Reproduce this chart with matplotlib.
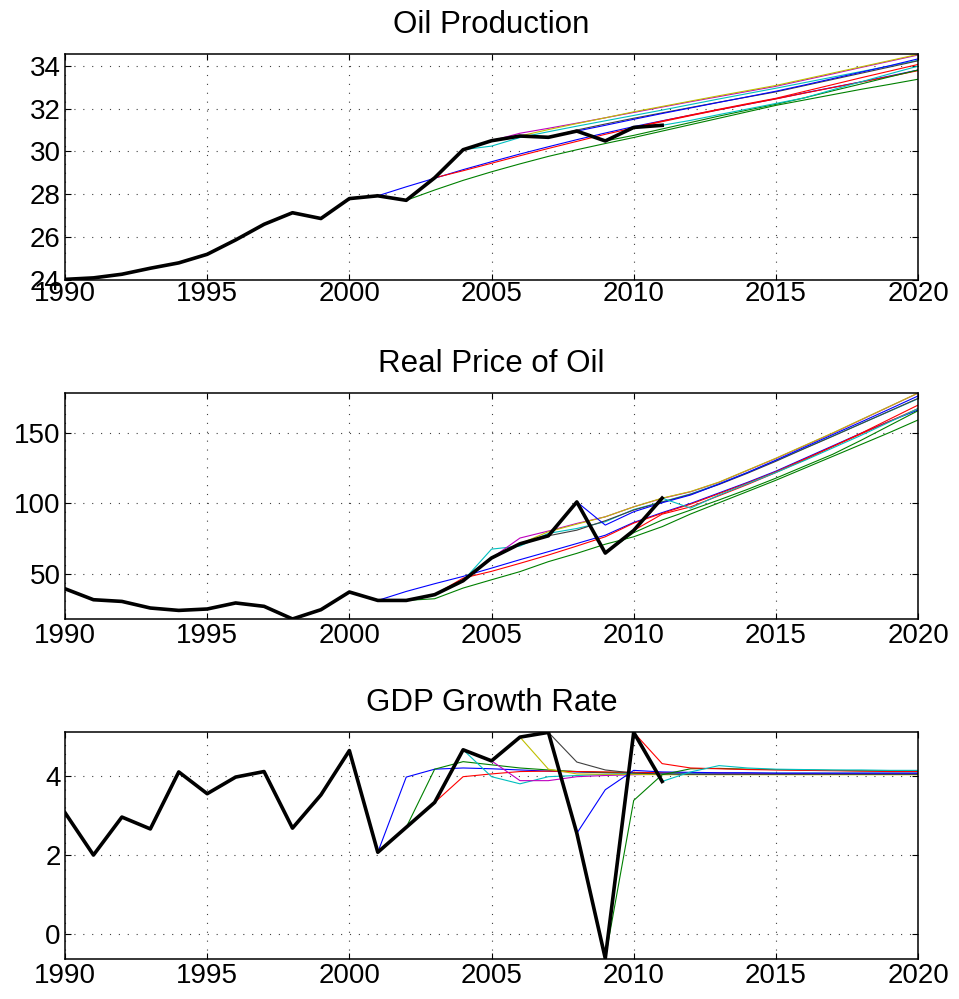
import numpy as np
import matplotlib
matplotlib.use("Agg")
import matplotlib.pyplot as plt

plt.rcParams["font.family"] = ["Liberation Sans", "DejaVu Sans"]

# ---- datos observados (1990-2011) ----
years_hist = list(range(1990, 2012))
prod_hist = [24.03, 24.1, 24.27, 24.55, 24.8, 25.2, 25.87, 26.6, 27.14, 26.87,
             27.8, 27.93, 27.72, 28.77, 30.08, 30.5, 30.72, 30.66, 30.95, 30.49,
             31.12, 31.22]
price_hist = [39.3, 31.5, 30.3, 25.6, 23.9, 24.9, 29.2, 26.8, 17.8, 24.4,
              37.0, 31.0, 31.0, 35.1, 45.0, 61.2, 71.3, 77.0, 101.1, 64.7,
              80.8, 103.8]
gdp_hist = [3.06, 1.99, 2.95, 2.65, 4.09, 3.54, 3.96, 4.1, 2.67, 3.51,
            4.63, 2.06, 2.69, 3.32, 4.65, 4.37, 4.97, 5.09, 2.54, -0.62,
            5.09, 3.85]

# ---- previsões: ano de origem -> valores da origem até 2020 ----
origins = list(range(2001, 2012))
fc_colors = ["b", "g", "r", "c", "m", "y", "k", "b", "g", "r", "c"]

prod_fc = {
    2001: [27.93, 28.35, 28.75, 29.15, 29.52, 29.88, 30.22, 30.55, 30.86, 31.16,
           31.43, 31.69, 31.95, 32.2, 32.46, 32.73, 32.99, 33.25, 33.52, 33.8],
    2002: [27.72, 28.2, 28.65, 29.05, 29.42, 29.77, 30.08, 30.37, 30.65, 30.95,
           31.25, 31.55, 31.85, 32.15, 32.4, 32.65, 32.9, 33.13, 33.37],
    2003: [28.77, 29.1, 29.45, 29.8, 30.14, 30.47, 30.8, 31.1, 31.39, 31.67,
           31.94, 32.2, 32.45, 32.72, 32.98, 33.24, 33.5, 33.77],
    2004: [30.08, 30.25, 30.65, 30.92, 31.18, 31.43, 31.68, 31.93, 32.19, 32.45,
           32.7, 32.95, 33.21, 33.47, 33.73, 33.99, 34.25],
    2005: [30.5, 30.85, 31.08, 31.32, 31.57, 31.82, 32.07, 32.32, 32.56, 32.8,
           33.04, 33.33, 33.62, 33.92, 34.21, 34.5],
    2006: [30.72, 31.02, 31.3, 31.57, 31.85, 32.1, 32.35, 32.6, 32.84, 33.08,
           33.37, 33.66, 33.95, 34.24, 34.53],
    2007: [30.66, 31.0, 31.28, 31.55, 31.8, 32.05, 32.3, 32.54, 32.78, 33.07,
           33.36, 33.65, 33.94, 34.23],
    2008: [30.95, 31.22, 31.5, 31.77, 32.03, 32.29, 32.55, 32.81, 33.1, 33.4,
           33.7, 34.0, 34.32],
    2009: [30.49, 30.75, 31.05, 31.35, 31.65, 31.93, 32.2, 32.5, 32.83, 33.15,
           33.48, 33.8],
    2010: [31.12, 31.42, 31.7, 31.97, 32.23, 32.48, 32.8, 33.12, 33.44, 33.75, 34.06],
    2011: [31.22, 31.45, 31.72, 31.98, 32.24, 32.5, 32.88, 33.25, 33.62, 33.98],
}

price_fc = {
    2001: [31.0, 37.4, 42.9, 48.1, 54.0, 60.0, 65.7, 71.5, 77.4, 86.5,
           93.5, 100.0, 107.5, 115.0, 123.0, 132.0, 141.0, 150.0, 158.5, 166.5],
    2002: [31.0, 32.2, 39.8, 45.7, 51.5, 58.6, 64.5, 71.0, 76.3, 83.5,
           92.5, 100.5, 108.5, 116.5, 125.0, 133.5, 142.0, 150.5, 159.4],
    2003: [35.1, 46.9, 51.7, 57.4, 63.3, 69.7, 76.3, 86.0, 93.0, 99.5,
           107.0, 114.5, 122.5, 131.5, 140.5, 149.5, 158.5, 167.5],
    2004: [45.0, 67.5, 69.7, 78.7, 82.2, 87.0, 95.7, 101.2, 106.8, 114.0,
           122.0, 130.5, 139.2, 148.0, 156.8, 165.6, 174.5],
    2005: [61.1, 75.4, 80.4, 85.8, 90.5, 97.6, 103.6, 108.3, 115.0, 123.5,
           132.0, 141.0, 150.0, 159.5, 169.0, 178.5],
    2006: [71.3, 79.9, 85.3, 90.5, 97.6, 103.8, 108.5, 115.2, 123.7, 132.2,
           141.2, 150.2, 159.7, 169.1, 178.6],
    2007: [77.0, 81.0, 87.7, 95.3, 101.0, 106.5, 113.5, 121.5, 130.0, 139.0,
           147.8, 156.8, 165.8, 174.8],
    2008: [101.1, 84.6, 94.1, 100.5, 106.0, 113.8, 122.0, 130.8, 140.0, 149.0,
           158.0, 167.2, 176.5],
    2009: [64.7, 79.2, 88.2, 95.3, 102.5, 110.0, 118.0, 126.5, 135.0, 145.0,
           155.5, 166.0],
    2010: [80.8, 92.4, 97.6, 105.5, 113.5, 122.0, 131.0, 140.5, 150.0, 160.0, 170.0],
    2011: [103.8, 96.7, 106.0, 114.0, 122.0, 130.5, 139.5, 148.5, 158.0, 167.5],
}

gdp_fc = {
    2001: [2.06, 3.96, 4.16, 4.19, 4.17, 4.14, 4.11, 4.09, 4.07, 4.06,
           4.05, 4.05, 4.04, 4.04, 4.04, 4.03, 4.03, 4.03, 4.03, 4.03],
    2002: [2.69, 4.16, 4.35, 4.27, 4.19, 4.14, 4.10, 4.08, 4.06, 4.05,
           4.04, 4.04, 4.03, 4.03, 4.03, 4.03, 4.03, 4.03, 4.03],
    2003: [3.32, 3.97, 4.04, 4.10, 4.11, 4.10, 4.09, 4.08, 4.07, 4.06,
           4.06, 4.05, 4.05, 4.05, 4.05, 4.05, 4.05, 4.05],
    2004: [4.65, 3.97, 3.79, 3.97, 4.00, 4.03, 4.04, 4.05, 4.05, 4.05,
           4.06, 4.06, 4.06, 4.06, 4.06, 4.06, 4.06],
    2005: [4.37, 3.87, 3.87, 3.97, 4.00, 4.02, 4.03, 4.03, 4.04, 4.04,
           4.04, 4.04, 4.04, 4.04, 4.04, 4.04],
    2006: [4.97, 4.16, 4.04, 4.03, 4.03, 4.02, 4.02, 4.02, 4.02, 4.02,
           4.02, 4.02, 4.02, 4.02, 4.02],
    2007: [5.09, 4.34, 4.14, 4.06, 4.04, 4.03, 4.03, 4.03, 4.03, 4.03,
           4.03, 4.03, 4.03, 4.03],
    2008: [2.54, 3.64, 4.13, 4.09, 4.08, 4.07, 4.07, 4.06, 4.06, 4.06,
           4.06, 4.06, 4.06],
    2009: [-0.62, 3.37, 4.02, 4.17, 4.18, 4.16, 4.15, 4.14, 4.13, 4.12, 4.12, 4.12],
    2010: [5.09, 4.30, 4.19, 4.17, 4.15, 4.14, 4.13, 4.12, 4.11, 4.10, 4.10],
    2011: [3.85, 4.09, 4.25, 4.19, 4.16, 4.15, 4.14, 4.14, 4.13, 4.13],
}

# cores padrão antigas do MATLAB
MATLAB = {"b": (0, 0, 1), "g": (0, 0.5, 0), "r": (1, 0, 0), "c": (0, 0.75, 0.75),
          "m": (0.75, 0, 0.75), "y": (0.75, 0.75, 0), "k": (0.25, 0.25, 0.25)}

panels = [
    ("Oil Production", prod_hist, prod_fc, (24.0, 34.55), [24, 26, 28, 30, 32, 34]),
    ("Real Price of Oil", price_hist, price_fc, (17.8, 178.6), [50, 100, 150]),
    ("GDP Growth Rate", gdp_hist, gdp_fc, (-0.63, 5.1), [0, 2, 4]),
]
# posições [esq, base, larg, alt] em fração da figura
positions = [
    [0.0678, 0.7197, 0.8895, 0.2263],
    [0.0678, 0.3804, 0.8895, 0.2262],
    [0.0678, 0.0403, 0.8895, 0.2270],
]
xpads = [1, 3, 3]

fig = plt.figure(figsize=(9.59, 9.99), dpi=100)

for (title, hist, fc, ylim, yticks), pos, xpad in zip(panels, positions, xpads):
    ax = fig.add_axes(pos)
    for yr, col in zip(origins, fc_colors):
        vals = fc[yr]
        ax.plot(range(yr, yr + len(vals)), vals, color=MATLAB[col], lw=0.8)
    ax.plot(years_hist, hist, color="black", lw=2.6)
    ax.set_xlim(1990, 2020)
    ax.set_ylim(*ylim)
    ax.set_xticks(range(1990, 2021, 5))
    ax.set_yticks(yticks)
    ax.grid(True, color="0.25", linestyle=(0, (1, 7)), linewidth=0.8)
    ax.tick_params(direction="in", length=4, width=0.8, top=True, right=True,
                   labelsize=20, pad=3)
    ax.tick_params(axis="x", pad=xpad)
    for sp in ax.spines.values():
        sp.set_linewidth(1.1)
    ax.set_title(title, fontsize=22.5, pad=15)

plt.savefig("out.png", dpi=100)
plt.close()
